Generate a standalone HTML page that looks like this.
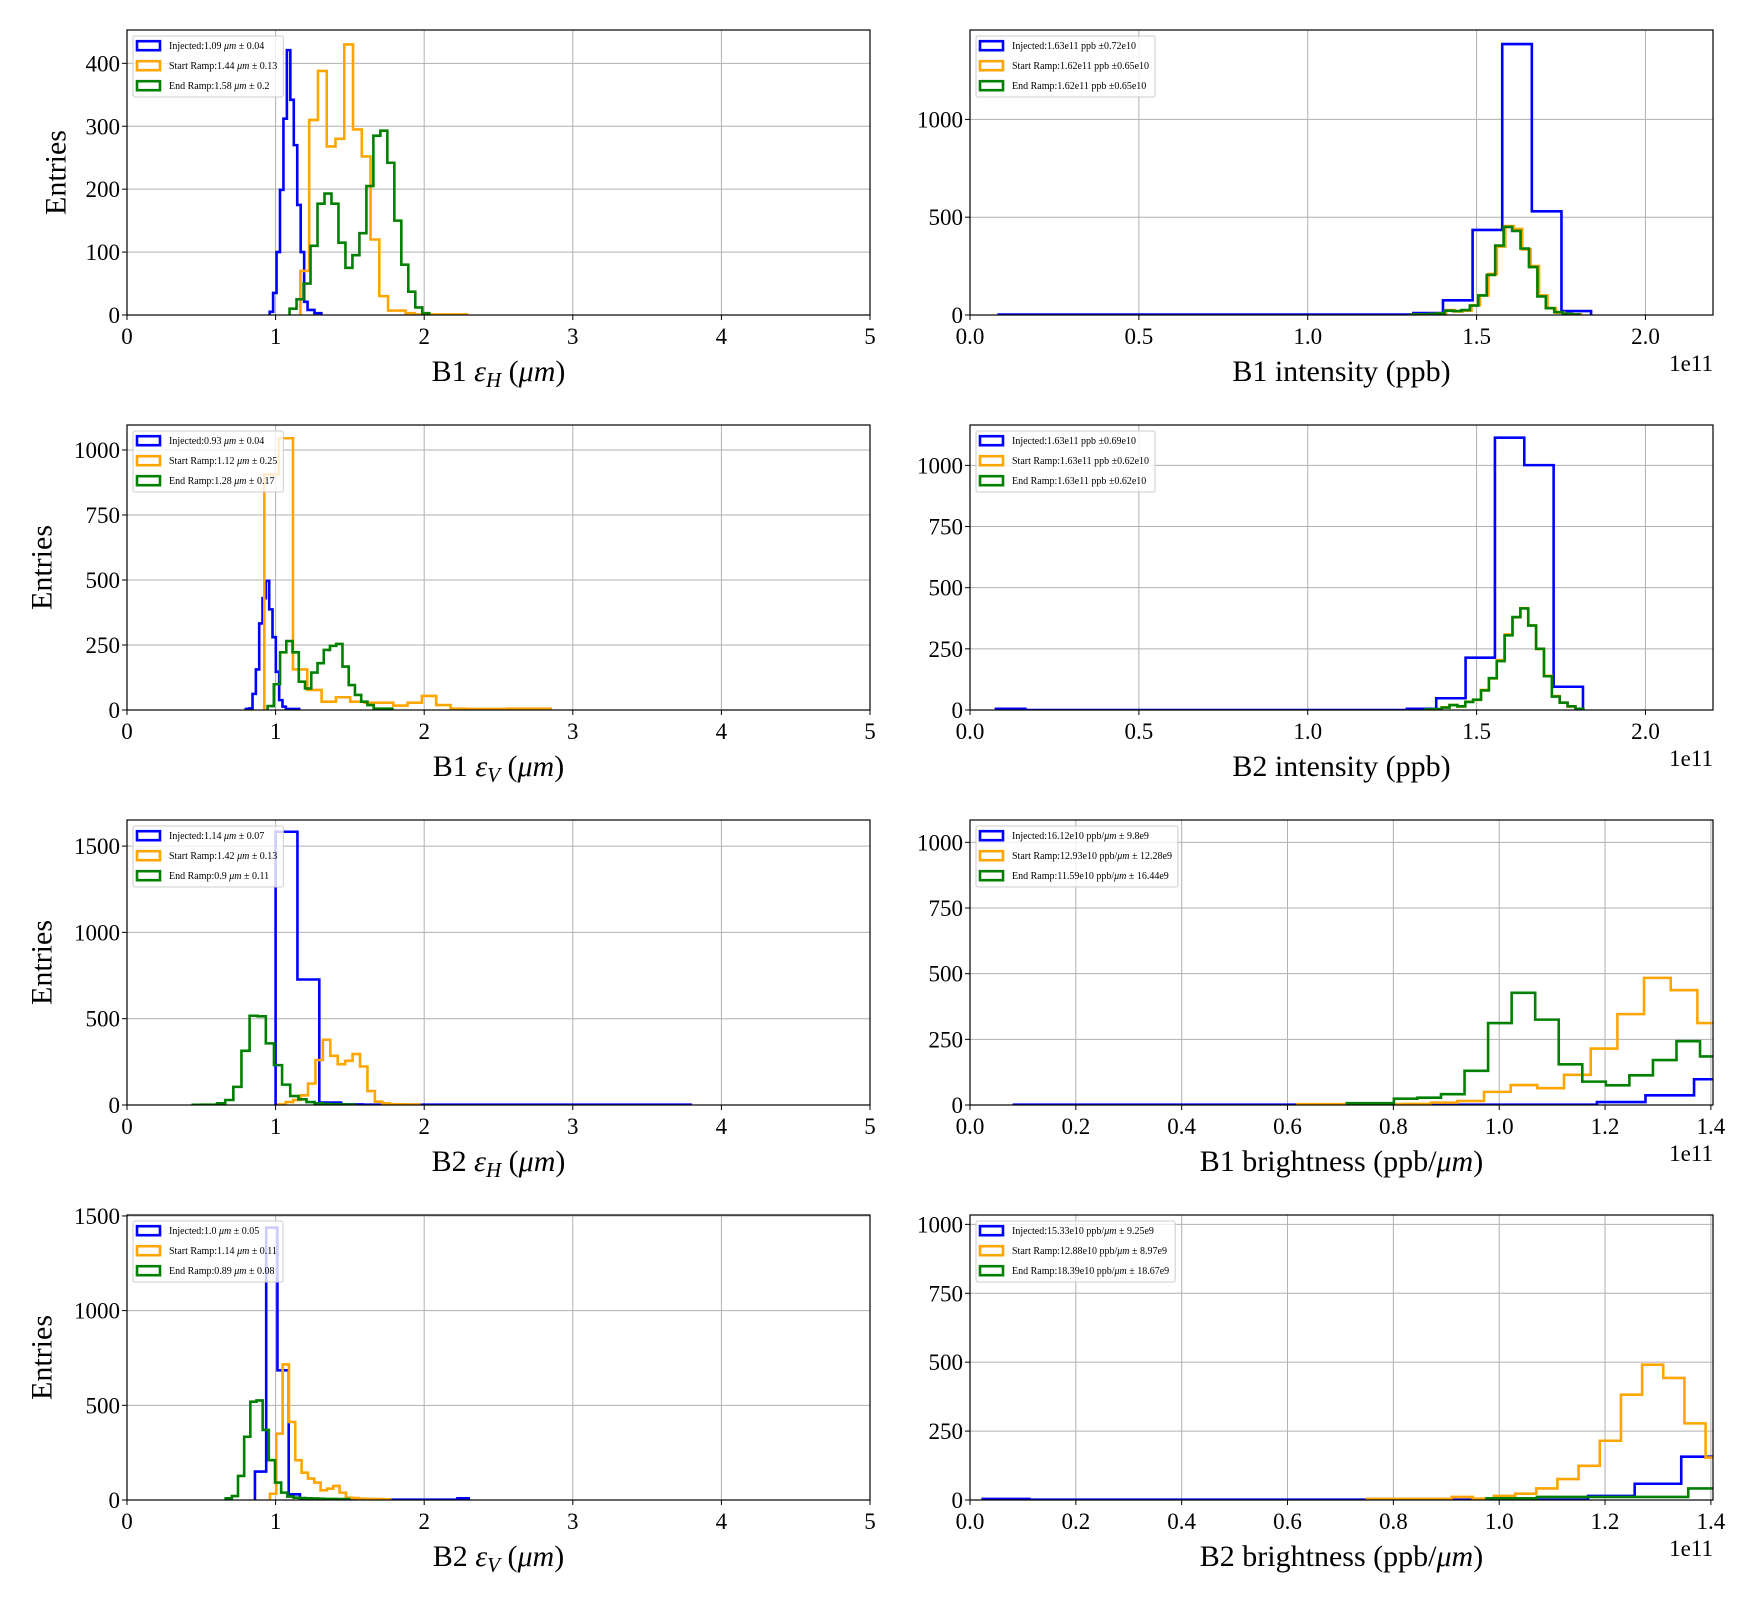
<!DOCTYPE html>
<html><head><meta charset="utf-8">
<style>
html,body{margin:0;padding:0;background:#fff;}
svg{display:block;font-family:"Liberation Serif","DejaVu Serif",serif;}
</style></head>
<body>
<svg id="fig" width="1760" height="1600" viewBox="0 0 1760 1600" xmlns="http://www.w3.org/2000/svg"></svg>
<script>
// ---------- Panel data (bin starts, widths, counts) ----------
// P1: B1 eps_H
const p1_blue_start = 0.96, p1_blue_width = 0.0232;
const p1_blue = [5,35,100,199,312,421,342,270,175,100,21,8,8,3,3];
const p1_orange_start = 1.167, p1_orange_width = 0.059;
const p1_orange = [70,310,388,268,280,430,295,252,120,30,7,7,3,1,1,1,1,1,1];
const p1_green_start = 1.094, p1_green_width = 0.047;
const p1_green = [10,25,50,110,177,193,177,115,75,95,130,205,285,293,242,150,80,37,12,3];
const p1_yticks = [0,100,200,300,400];
// P2: B1 intensity
const p2_blue_start = 0.085, p2_blue_width = 0.0877;
const p2_blue = [2,2,2,2,2,2,2,2,2,2,2,2,2,2,10,75,435,1385,530,20];
const p2_orange_start = 1.31, p2_orange_width = 0.025;
const p2_orange = [2,3,5,8,25,18,22,50,100,210,350,455,440,335,250,100,35,12,6,3];
const p2_green_start = 1.305, p2_green_width = 0.025;
const p2_green = [2,3,5,8,22,20,25,48,100,205,355,450,430,340,245,95,35,15,6,3];
const p2_yticks = [0,500,1000];
// P3: B1 eps_V
const p3_blue_start = 0.8, p3_blue_width = 0.0224;
const p3_blue = [4,6,62,156,333,430,497,387,280,147,38,13,4,4,4,4];
const p3_orange_start = 0.924, p3_orange_width = 0.0964;
const p3_orange = [906,1045,156,77,32,49,32,28,28,17,28,54,19,5,4,4,4,5,5,5];
const p3_green_start = 0.946, p3_green_width = 0.042;
const p3_green = [15,99,222,265,222,109,83,144,180,231,247,254,167,96,58,32,19,5,5,5];
const p3_yticks = [0,250,500,750,1000];
// P4: B2 intensity
const p4_blue_start = 0.077, p4_blue_width = 0.0869;
const p4_blue = [5,0,0,0,0,0,0,0,0,0,0,0,0,0,5,48,214,1113,1001,95];
const p4_orange_start = 1.35, p4_orange_width = 0.0233;
const p4_orange = [3,3,11,20,14,34,41,82,129,204,309,379,416,346,249,140,57,30,14,5];
const p4_green_start = 1.35, p4_green_width = 0.0233;
const p4_green = [3,4,10,20,15,33,42,80,130,200,305,380,415,345,250,138,55,30,15,5];
const p4_yticks = [0,250,500,750,1000];
// P5: B2 eps_H
const p5_blue_start = 1.0, p5_blue_width = 0.147;
const p5_blue = [1583,727,14,3,2,2,2,2,2,2,2,2,2,2,2,2,2,2,2];
const p5_orange_start = 1.018, p5_orange_width = 0.0500;
const p5_orange = [3,17,29,56,124,260,378,285,236,256,295,223,81,19,10,5,4,3,3];
const p5_green_start = 0.442, p5_green_width = 0.0547;
const p5_green = [1,2,2,10,29,105,314,517,514,357,231,118,52,33,17,10,6,4,3,2];
const p5_yticks = [0,500,1000,1500];
// P6: B1 brightness
const p6_blue_start = 0.083, p6_blue_width = 0.0918;
const p6_blue = [1,1,1,1,1,1,1,1,1,1,1,1,11,37,98];
const p6_orange_start = 0.6185, p6_orange_width = 0.0504;
const p6_orange = [3,3,3,3,4,9,15,50,76,64,115,215,346,484,437,312];
const p6_green_start = 0.712, p6_green_width = 0.0445;
const p6_green = [7,7,24,28,41,130,312,427,325,155,89,75,113,171,243,185];
const p6_yticks = [0,250,500,750,1000];
// P7: B2 eps_V
const p7_blue_start = 0.861, p7_blue_width = 0.0757;
const p7_blue = [150,1438,685,30,3,2,2,2,2,2,2,2,2,2,2,2,2,2,9];
const p7_orange_start = 0.962, p7_orange_width = 0.0426;
const p7_orange = [33,350,716,412,210,144,113,92,51,60,74,39,12,10,7,6,5,5,4];
const p7_green_start = 0.664, p7_green_width = 0.0415;
const p7_green = [9,21,127,334,519,526,370,210,92,39,18,12,10,9,8,7,6,6,5,5];
const p7_yticks = [0,500,1000,1500];
// P8: B2 brightness
const p8_blue_start = 0.024, p8_blue_width = 0.088;
const p8_blue = [4,1,1,1,1,1,1,1,1,1,1,1,1,15,59,157];
const p8_orange_start = 0.75, p8_orange_width = 0.04;
const p8_orange = [4,4,4,4,11,5,15,23,42,76,124,215,382,491,443,278,154];
const p8_green_start = 0.976, p8_green_width = 0.0953;
const p8_green = [6,11,11,11,42];
const p8_yticks = [0,250,500,750,1000];

const emitTicks = [0,1,2,3,4,5];
const intTicks = [0,0.5,1.0,1.5,2.0];
const brTicks = [0,0.2,0.4,0.6,0.8,1.0,1.2,1.4];

const panels = [
 {id:'b1-eps-h', col:0,row:0, xmax:5, ymax:453, xt:emitTicks, dec:0, yt:p1_yticks, lab:['B1','H'], kind:'emit',
  s:[[p1_blue_start,p1_blue_width,p1_blue],[p1_orange_start,p1_orange_width,p1_orange],[p1_green_start,p1_green_width,p1_green]],
  leg:['Injected:1.09 ','Start Ramp:1.44 ','End Ramp:1.58 '], err:['0.04','0.13','0.2']},
 {id:'b1-intensity', col:1,row:0, xmax:2.2, ymax:1457, xt:intTicks, dec:1, yt:p2_yticks, lab:'B1 intensity (ppb)', kind:'int',
  s:[[p2_blue_start,p2_blue_width,p2_blue],[p2_orange_start,p2_orange_width,p2_orange],[p2_green_start,p2_green_width,p2_green]],
  legT:['Injected:1.63e11 ppb \u00b10.72e10','Start Ramp:1.62e11 ppb \u00b10.65e10','End Ramp:1.62e11 ppb \u00b10.65e10']},
 {id:'b1-eps-v', col:0,row:1, xmax:5, ymax:1096, xt:emitTicks, dec:0, yt:p3_yticks, lab:['B1','V'], kind:'emit',
  s:[[p3_blue_start,p3_blue_width,p3_blue],[p3_orange_start,p3_orange_width,p3_orange],[p3_green_start,p3_green_width,p3_green]],
  leg:['Injected:0.93 ','Start Ramp:1.12 ','End Ramp:1.28 '], err:['0.04','0.25','0.17']},
 {id:'b2-intensity', col:1,row:1, xmax:2.2, ymax:1165, xt:intTicks, dec:1, yt:p4_yticks, lab:'B2 intensity (ppb)', kind:'int',
  s:[[p4_blue_start,p4_blue_width,p4_blue],[p4_orange_start,p4_orange_width,p4_orange],[p4_green_start,p4_green_width,p4_green]],
  legT:['Injected:1.63e11 ppb \u00b10.69e10','Start Ramp:1.63e11 ppb \u00b10.62e10','End Ramp:1.63e11 ppb \u00b10.62e10']},
 {id:'b2-eps-h', col:0,row:2, xmax:5, ymax:1651, xt:emitTicks, dec:0, yt:p5_yticks, lab:['B2','H'], kind:'emit',
  s:[[p5_blue_start,p5_blue_width,p5_blue],[p5_orange_start,p5_orange_width,p5_orange],[p5_green_start,p5_green_width,p5_green]],
  leg:['Injected:1.14 ','Start Ramp:1.42 ','End Ramp:0.9 '], err:['0.07','0.13','0.11']},
 {id:'b1-brightness', col:1,row:2, xmax:1.404, ymax:1085, xt:brTicks, dec:1, yt:p6_yticks, lab:'B1', kind:'br',
  s:[[p6_blue_start,p6_blue_width,p6_blue],[p6_orange_start,p6_orange_width,p6_orange],[p6_green_start,p6_green_width,p6_green]],
  legB:[['Injected:16.12e10 ppb/','9.8e9'],['Start Ramp:12.93e10 ppb/','12.28e9'],['End Ramp:11.59e10 ppb/','16.44e9']]},
 {id:'b2-eps-v', col:0,row:3, xmax:5, ymax:1505, xt:emitTicks, dec:0, yt:p7_yticks, lab:['B2','V'], kind:'emit',
  s:[[p7_blue_start,p7_blue_width,p7_blue],[p7_orange_start,p7_orange_width,p7_orange],[p7_green_start,p7_green_width,p7_green]],
  leg:['Injected:1.0 ','Start Ramp:1.14 ','End Ramp:0.89 '], err:['0.05','0.11','0.08']},
 {id:'b2-brightness', col:1,row:3, xmax:1.404, ymax:1034, xt:brTicks, dec:1, yt:p8_yticks, lab:'B2', kind:'br',
  s:[[p8_blue_start,p8_blue_width,p8_blue],[p8_orange_start,p8_orange_width,p8_orange],[p8_green_start,p8_green_width,p8_green]],
  legB:[['Injected:15.33e10 ppb/','9.25e9'],['Start Ramp:12.88e10 ppb/','8.97e9'],['End Ramp:18.39e10 ppb/','18.67e9']]}
];
const colors = ['#0000ff','#ffa500','#008000'];
const seriesNames = ['injected','start-ramp','end-ramp'];
const NS = 'http://www.w3.org/2000/svg';
const svg = document.getElementById('fig');
function mk(tag, attrs, parent){
  const e = document.createElementNS(NS, tag);
  for (const k in attrs) e.setAttribute(k, attrs[k]);
  (parent||svg).appendChild(e);
  return e;
}
const W = 743, H = 285;
const lefts = [127, 970], tops = [30, 425, 820, 1215];
const defs = mk('defs', {});

panels.forEach((p, pi) => {
  const L = lefts[p.col], T = tops[p.row], B = T + H;
  const xs = v => L + v / p.xmax * W;
  const ys = v => B - v / p.ymax * H;
  const g = mk('g', {});
  
  
  const cp = mk('clipPath', {id:'clip'+pi}, defs);
  mk('rect', {x:L, y:T, width:W, height:H}, cp);
  // grid
  p.xt.forEach(t => {
    const l = mk('line', {x1:xs(t), x2:xs(t), y1:T, y2:B, stroke:'#b0b0b0', 'stroke-width':1}, g);
    
    
  });
  p.yt.forEach(t => {
    const l = mk('line', {x1:L, x2:L+W, y1:ys(t), y2:ys(t), stroke:'#b0b0b0', 'stroke-width':1}, g);
    
    
  });
  // series
  p.s.forEach((s, si) => {
    const [st, wd, vals] = s;
    let d = 'M' + xs(st) + ',' + ys(0);
    vals.forEach((v, i) => {
      d += ' L' + xs(st + i*wd) + ',' + ys(v) + ' L' + xs(st + (i+1)*wd) + ',' + ys(v);
    });
    d += ' L' + xs(st + vals.length*wd) + ',' + ys(0);
    const path = mk('path', {d:d, fill:'none', stroke:colors[si], 'stroke-width':2.6, 'stroke-linejoin':'miter', 'clip-path':'url(#clip'+pi+')'}, g);
    
    
  });
  // frame
  const fr = mk('rect', {x:L, y:T, width:W, height:H, fill:'none', stroke:'#000', 'stroke-width':1.2}, g);
  
  
  // ticks
  p.xt.forEach(t => {
    mk('line', {x1:xs(t), x2:xs(t), y1:B, y2:B+5, stroke:'#000', 'stroke-width':1}, g);
    const tx = mk('text', {x:xs(t), y:B+29, 'font-size':23, 'text-anchor':'middle'}, g);
    tx.textContent = t.toFixed(p.dec);
    
    
  });
  p.yt.forEach(t => {
    mk('line', {x1:L-5, x2:L, y1:ys(t), y2:ys(t), stroke:'#000', 'stroke-width':1}, g);
    const tx = mk('text', {x:L-7, y:ys(t)+8, 'font-size':23, 'text-anchor':'end'}, g);
    tx.textContent = String(t);
    
    
  });
  // x label
  const xl = mk('text', {x:L+W/2, y:B+66, 'font-size':30, 'text-anchor':'middle'}, g);
  
  
  if (p.kind === 'emit') {
    const a = mk('tspan', {}, xl); a.textContent = p.lab[0] + ' ';
    const b = mk('tspan', {'font-style':'italic'}, xl); b.textContent = '\u03b5';
    const c = mk('tspan', {'font-style':'italic', 'font-size':21, dy:6}, xl); c.textContent = p.lab[1];
    const d = mk('tspan', {dy:-6}, xl); d.textContent = ' (';
    const e = mk('tspan', {'font-style':'italic'}, xl); e.textContent = '\u03bcm';
    const f = mk('tspan', {}, xl); f.textContent = ')';
  } else if (p.kind === 'int') {
    xl.textContent = p.lab;
  } else {
    const a = mk('tspan', {}, xl); a.textContent = p.lab + ' brightness (ppb/';
    const b = mk('tspan', {'font-style':'italic'}, xl); b.textContent = '\u03bcm';
    const c = mk('tspan', {}, xl); c.textContent = ')';
  }
  if (p.kind !== 'emit') {
    const off = mk('text', {x:L+W, y:B+56, 'font-size':23, 'text-anchor':'end'}, g);
    off.textContent = '1e11';
    
    
  }
  if (p.col === 0) {
    const cx = p.row === 0 ? 56 : 42;
    const yl = mk('text', {x:cx, y:T+H/2, 'font-size':30, 'text-anchor':'middle', 'dominant-baseline':'central', transform:'rotate(-90 '+cx+' '+(T+H/2)+')'}, g);
    yl.textContent = 'Entries';
    
    
  }
  // legend
  const lg = mk('g', {}, g);
  
  
  const box = mk('rect', {x:L+6, y:T+6, width:160, height:61, rx:2, fill:'#fff', 'fill-opacity':0.8, stroke:'#cccccc', 'stroke-width':1}, lg);
  
  
  let maxw = 0;
  for (let i = 0; i < 3; i++) {
    const cy = T + 15.7 + i*20;
    const pr = mk('rect', {x:L+10, y:cy-4.5, width:23, height:9, fill:'#fff', stroke:colors[i], 'stroke-width':2.6}, lg);
    
    
    const tx = mk('text', {x:L+42, y:cy+3.5, 'font-size':10}, lg);
    
    
    if (p.kind === 'emit') {
      const a = mk('tspan', {}, tx); a.textContent = p.leg[i];
      const b = mk('tspan', {'font-style':'italic'}, tx); b.textContent = '\u03bcm';
      const c = mk('tspan', {}, tx); c.textContent = ' \u00b1 ' + p.err[i];
    } else if (p.kind === 'int') {
      tx.textContent = p.legT[i];
    } else {
      const a = mk('tspan', {}, tx); a.textContent = p.legB[i][0];
      const b = mk('tspan', {'font-style':'italic'}, tx); b.textContent = '\u03bcm';
      const c = mk('tspan', {}, tx); c.textContent = ' \u00b1 ' + p.legB[i][1];
    }
    maxw = Math.max(maxw, tx.getComputedTextLength());
  }
  box.setAttribute('width', 36 + maxw + 6);
});
</script>
</body></html>
